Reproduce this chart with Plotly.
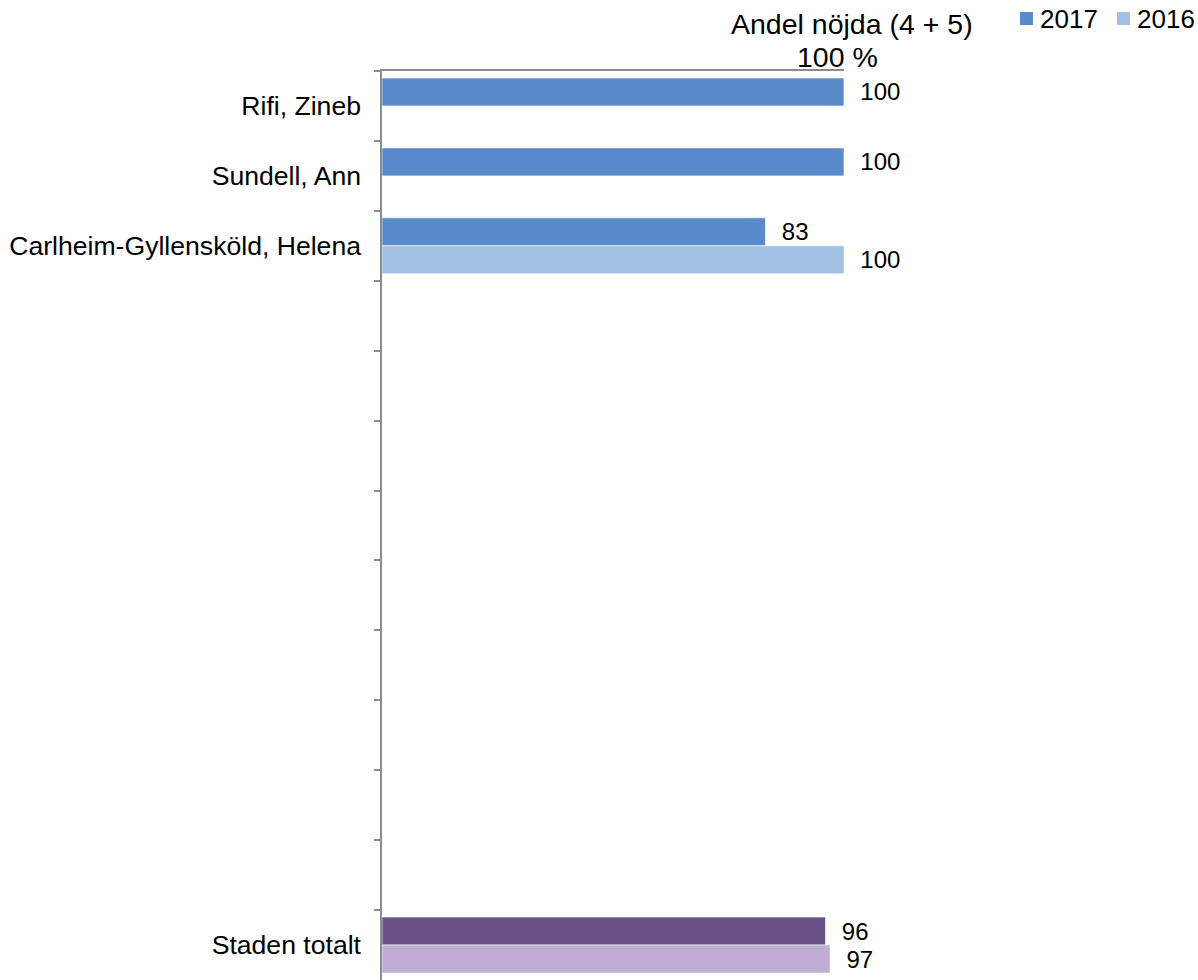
import plotly.graph_objects as go

categories = ["Rifi, Zineb", "Sundell, Ann", "Carlheim-Gyllensköld, Helena",
              "tom 1", "tom 2", "tom 3", "tom 4", "tom 5", "tom 6", "tom 7", "tom 8", "tom 9",
              "Staden totalt"]
tick_labels = ["Rifi, Zineb", "Sundell, Ann", "Carlheim-Gyllensköld, Helena",
               "", "", "", "", "", "", "", "", "",
               "Staden totalt"]
values_2017 = [100, 100, 83, None, None, None, None, None, None, None, None, None, 96]
values_2016 = [None, None, 100, None, None, None, None, None, None, None, None, None, 97]

blue_2017 = "#598AC9"
blue_2016 = "#A2C0E4"
purple_2017 = "#6A5289"
purple_2016 = "#BFADD3"

colors_2017 = [purple_2017 if c == "Staden totalt" else blue_2017 for c in categories]
colors_2016 = [purple_2016 if c == "Staden totalt" else blue_2016 for c in categories]

def labels(vals):
    return ["\u00a0\u00a0" + str(v) if v is not None else "" for v in vals]

FONT = "Arial, Liberation Sans, sans-serif"

# plot-area geometry (pixels)
L, R, T = 382, 844, 71
H = 980 - T
def px_x(p):
    return (p - L) / (R - L)
def px_y(p):
    return 1 + (T - p) / H

fig = go.Figure()
for name, vals, cols in [("2017", values_2017, colors_2017), ("2016", values_2016, colors_2016)]:
    fig.add_trace(go.Bar(
        y=categories, x=vals, name=name, orientation="h",
        marker=dict(color=cols, line=dict(color="rgba(255,255,255,0.6)", width=1)),
        text=labels(vals), textposition="outside", cliponaxis=False,
        textfont=dict(family=FONT, size=24, color="#000000"),
        hoverinfo="x+y", showlegend=False,
    ))

n = len(categories)
label_idx = [i for i, t in enumerate(tick_labels) if t]

# empty helper trace so that the label axis (y2) is instantiated
fig.add_trace(go.Scatter(x=[None], y=[None], yaxis="y2", mode="markers",
                         showlegend=False, hoverinfo="skip"))

# legend (drawn as annotations + small squares)
legend_items = [("2017", blue_2017, 1020), ("2016", blue_2016, 1117)]
shapes = []
annotations = [
    dict(text="Andel nöjda (4 + 5)", xref="paper", yref="paper",
         x=px_x(852), y=px_y(24), xanchor="center", yanchor="middle",
         showarrow=False, font=dict(size=28.5, color="#000000")),
    dict(text="100 %", xref="paper", yref="paper",
         x=px_x(837), y=px_y(57), xanchor="center", yanchor="middle",
         showarrow=False, font=dict(size=28.5, color="#000000")),
]
for name, col, x0 in legend_items:
    shapes.append(dict(type="rect", xref="paper", yref="paper",
                       x0=px_x(x0), x1=px_x(x0 + 13), y0=px_y(25), y1=px_y(12),
                       fillcolor=col, line=dict(width=0)))
    annotations.append(dict(text=name, xref="paper", yref="paper",
                            x=px_x(x0 + 18), y=px_y(19), xanchor="left", yanchor="middle",
                            showarrow=False, font=dict(size=26, color="#000000")))

fig.update_layout(
    width=1198, height=980,
    margin=dict(l=L, r=1198 - R, t=T, b=0, pad=0),
    paper_bgcolor="white", plot_bgcolor="white",
    barmode="group", bargap=0.2, bargroupgap=0,
    font=dict(family=FONT, color="#000000"),
    showlegend=False,
    shapes=shapes,
    annotations=annotations,
    yaxis=dict(type="category", categoryorder="array", categoryarray=categories,
               range=[n - 0.5, -0.5], showline=True, linecolor="#8C8C8C", linewidth=1.5,
               ticks="outside", ticklen=6, tickcolor="#8C8C8C", tickwidth=1.5,
               tickson="boundaries", showgrid=False, zeroline=False,
               showticklabels=False, fixedrange=True),
    yaxis2=dict(overlaying="y", anchor="x", side="left", type="linear",
                range=[n - 0.5, -0.5], autorange=False,
                tickmode="array", tickvals=label_idx,
                ticktext=[tick_labels[i] for i in label_idx],
                ticks="", showline=False, showgrid=False, zeroline=False,
                showticklabels=True,
                tickfont=dict(size=26.6, color="#000000"), ticklabelstandoff=20,
                fixedrange=True),
)
fig.update_xaxes(range=[0, 100], side="top", showline=True, linecolor="#8C8C8C", linewidth=1.5,
                 showticklabels=False, ticks="", showgrid=False, zeroline=False, fixedrange=True)

fig.write_html("out.html", config={"displayModeBar": False},
               post_script="document.body.style.margin='0';document.body.style.overflow='hidden';")
